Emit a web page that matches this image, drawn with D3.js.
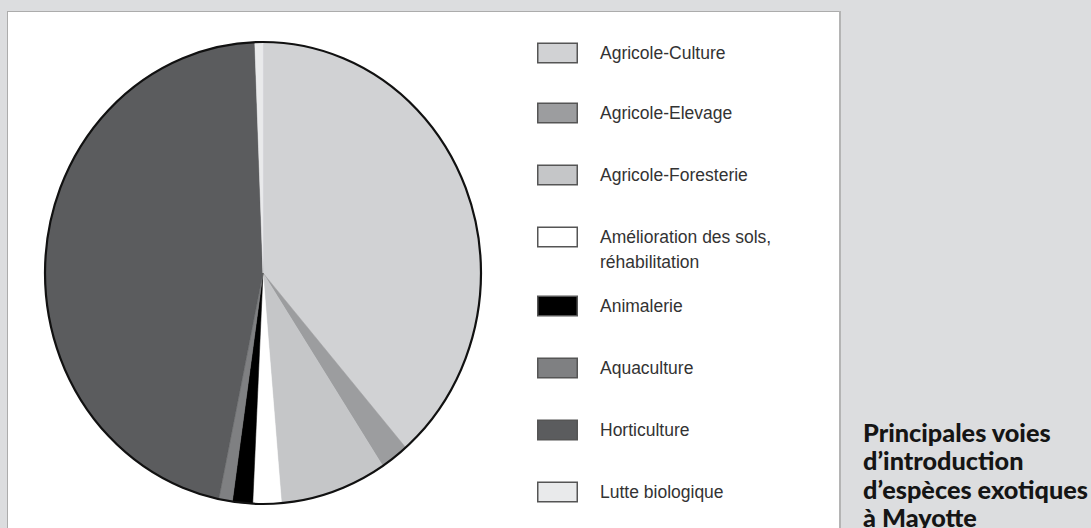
<!DOCTYPE html>
<meta charset="utf-8" />
<html>
  <head>
    <script src="https://d3js.org/d3.v7.min.js"></script>
    <style>
      body {
        margin: 0;
        background-color: #dcdddf;
      }
    </style>
  </head>
  <body>
    <div id="chart"></div>
  </body>

  <script>
    // slices, clockwise from 12 o'clock (percent)
    const categories = [
      "Agricole-Culture",
      "Agricole-Elevage",
      "Agricole-Foresterie",
      "Amélioration des sols, réhabilitation",
      "Animalerie",
      "Aquaculture",
      "Horticulture",
      "Lutte biologique"
    ];
    const values = [38.6, 2.1, 7.9, 2.1, 1.5, 1.0, 46.1, 0.6];
    const colors = ["#d1d2d4", "#9c9d9f", "#c5c6c8", "#ffffff", "#000000", "#7f8082", "#5b5c5e", "#e9eaeb"];
    // legend labels may wrap on two lines
    const legendLines = [
      ["Agricole-Culture"],
      ["Agricole-Elevage"],
      ["Agricole-Foresterie"],
      ["Amélioration des sols,", "réhabilitation"],
      ["Animalerie"],
      ["Aquaculture"],
      ["Horticulture"],
      ["Lutte biologique"]
    ];
    const titleLines = ["Principales voies", "d’introduction", "d’espèces exotiques", "à Mayotte"];

    const width = 1091;
    const height = 528;

    const svg = d3.select("#chart").append("svg")
      .attr("width", width)
      .attr("height", height)
      .style("display", "block");

    // white panel
    svg.append("rect")
      .attr("x", 7.5)
      .attr("y", 11.5)
      .attr("width", 832)
      .attr("height", height)
      .attr("fill", "#fff")
      .attr("stroke", "#acacac")
      .attr("stroke-width", 1);
    svg.append("line")
      .attr("x1", 840).attr("x2", 840)
      .attr("y1", 11).attr("y2", height)
      .attr("stroke", "#b4b4b4")
      .attr("stroke-width", 2);

    // pie, drawn on a circle and stretched a little vertically
    const cx = 263, cy = 273;
    const r = 218;
    const stretch = 231 / 218;

    const data = categories.map((c, i) => ({name: c, value: values[i], color: colors[i]}));

    const pie = d3.pie()
      .value(d => d.value)
      .sort(null);

    const arc = d3.arc()
      .innerRadius(0)
      .outerRadius(r);

    const g = svg.append("g")
      .attr("transform", `translate(${cx},${cy}) scale(1,${stretch})`);

    g.selectAll("path")
      .data(pie(data))
      .join("path")
        .attr("d", arc)
        .attr("fill", d => d.data.color)
        .attr("stroke", d => d.data.color)
        .attr("stroke-width", 0.5);

    g.append("circle")
      .attr("r", r)
      .attr("fill", "none")
      .attr("stroke", "#111")
      .attr("stroke-width", 2.2)
      .attr("vector-effect", "non-scaling-stroke");

    // legend
    const legendY = [53, 113, 175, 237, 306, 368, 430, 492];
    const legend = svg.append("g");

    const item = legend.selectAll("g")
      .data(data)
      .join("g")
        .attr("transform", (d, i) => `translate(537,${legendY[i]})`);

    item.append("rect")
      .attr("x", 0.75)
      .attr("y", -9.75)
      .attr("width", 39.5)
      .attr("height", 19.5)
      .attr("fill", d => d.color)
      .attr("stroke", "#555")
      .attr("stroke-width", 1.5);

    item.append("text")
      .attr("x", 63)
      .attr("y", 6)
      .style("font-family", "'Liberation Sans', Arial, sans-serif")
      .style("font-size", "17.5px")
      .style("fill", "#333")
      .selectAll("tspan")
      .data((d, i) => legendLines[i])
      .join("tspan")
        .attr("x", 63)
        .attr("dy", (d, j) => j === 0 ? 0 : 25)
        .text(d => d);

    // title on the grey side (the last line is cut by the bottom edge, as in the source)
    const title = svg.append("text")
      .style("font-family", "Lato, 'Open Sans', sans-serif")
      .style("font-weight", 900)
      .style("font-size", "22px")
      .style("fill", "#151515");

    title.selectAll("tspan")
      .data(titleLines)
      .join("tspan")
        .attr("x", 863)
        .attr("y", (d, i) => 442 + i * 28.3)
        .text(d => d);

    // fit the widest line to the width seen in the picture
    const widest = title.selectAll("tspan").nodes()[2];
    const w = widest.getComputedTextLength();
    if (w > 0) title.style("font-size", (22 * 225 / w).toFixed(2) + "px");
  </script>
</html>
